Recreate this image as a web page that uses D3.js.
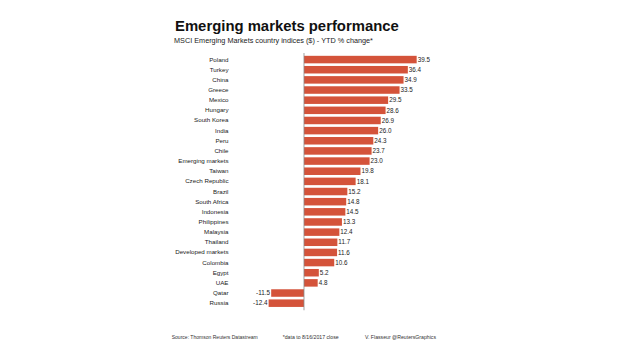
<!DOCTYPE html>
<html>
<head>
<meta charset="utf-8">
<script src="https://cdn.jsdelivr.net/npm/d3@7/dist/d3.min.js"></script>
<style>
  html, body { margin: 0; padding: 0; background: #ffffff; }
  svg { display: block; font-family: "Liberation Sans", Arial, Helvetica, sans-serif; }
</style>
</head>
<body>
<svg id="chart" width="620" height="355"></svg>
<script>
const categories = ["Poland","Turkey","China","Greece","Mexico","Hungary","South Korea","India","Peru","Chile","Emerging markets","Taiwan","Czech Republic","Brazil","South Africa","Indonesia","Philippines","Malaysia","Thailand","Developed markets","Colombia","Egypt","UAE","Qatar","Russia"];
const values = [39.5,36.4,34.9,33.5,29.5,28.6,26.9,26.0,24.3,23.7,23.0,19.8,18.1,15.2,14.8,14.5,13.3,12.4,11.7,11.6,10.6,5.2,4.8,-11.5,-12.4];
const titleText = "Emerging markets performance";
const subtitleText = "MSCI Emerging Markets country indices ($) - YTD % change*";
const footerTexts = ["Source: Thomson Reuters Datastream", "*data to 8/16/2017 close", "V. Flasseur @ReutersGraphics"];

const svg = d3.select("#chart");
const barColor = "#d4533a";

const x = d3.scaleLinear().domain([-15, 40]).range([261.2, 418.1]);
const y = d3.scaleBand().domain(categories).range([54.5, 308.25]).paddingInner(0.26).paddingOuter(0.13);

function fitText(sel, targetWidth) {
  const node = sel.node();
  const fs = parseFloat(sel.attr("font-size"));
  const w = node.getComputedTextLength();
  if (w > 0) sel.attr("font-size", (fs * targetWidth / w).toFixed(2));
}

// Title
const title = svg.append("text")
  .attr("x", 175).attr("y", 31)
  .attr("font-size", 15).attr("font-weight", "bold").attr("fill", "#111")
  .text(titleText);
fitText(title, 224);

const sub = svg.append("text")
  .attr("x", 174).attr("y", 42.5)
  .attr("font-size", 7.3).attr("fill", "#222")
  .text(subtitleText);
fitText(sub, 199);

// Bars
const data = categories.map((c, i) => ({ c, v: values[i] }));

svg.append("g").selectAll("rect").data(data).join("rect")
  .attr("x", d => x(Math.min(0, d.v)))
  .attr("y", d => y(d.c))
  .attr("width", d => Math.abs(x(d.v) - x(0)))
  .attr("height", y.bandwidth())
  .attr("fill", barColor);

// Zero line
svg.append("line")
  .attr("x1", x(0)).attr("x2", x(0))
  .attr("y1", y.range()[0] - 1.5).attr("y2", y.range()[1] + 2)
  .attr("stroke", "#8a8a8a").attr("stroke-width", 0.8);

// Category labels
const yAxis = d3.axisLeft(y).tickSize(0).tickPadding(0);
const ag = svg.append("g").attr("transform", "translate(228.5,0)").call(yAxis);
ag.select(".domain").remove();
ag.selectAll("text")
  .attr("font-size", 6.2)
  .attr("font-family", "Liberation Sans, Arial, sans-serif")
  .attr("fill", "#222");

// Value labels (hyphen-minus as in the original)
const fmt = v => d3.format(".1f")(v).replace("\u2212", "-");
svg.append("g").selectAll("text").data(data).join("text")
  .attr("x", d => d.v >= 0 ? x(d.v) + 1 : x(d.v) - 1.2)
  .attr("y", d => y(d.c) + y.bandwidth() / 2)
  .attr("dy", "0.35em")
  .attr("text-anchor", d => d.v >= 0 ? "start" : "end")
  .attr("font-size", 6.3)
  .attr("fill", "#222")
  .text(d => fmt(d.v));

// Footer
const footX = [171.7, 282.7, 365];
const footW = [86, 56, 71];
footerTexts.forEach((t, i) => {
  const f = svg.append("text")
    .attr("x", footX[i]).attr("y", 338.5)
    .attr("font-size", 5.1).attr("fill", "#333")
    .text(t);
  fitText(f, footW[i]);
});
</script>
</body>
</html>
